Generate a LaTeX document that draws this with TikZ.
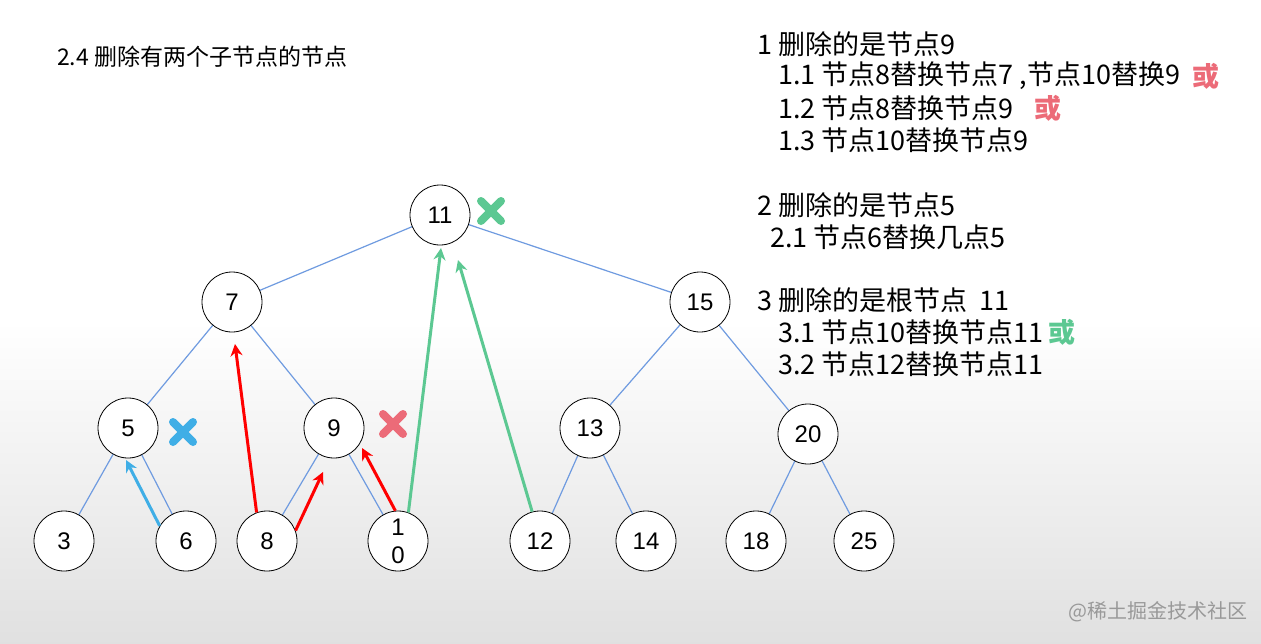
\documentclass[tikz,border=0pt]{standalone}
\usepackage{fontspec}
\setmainfont{Liberation Sans}
\newfontfamily\cjk{Noto Sans CJK SC}
\usetikzlibrary{positioning,arrows.meta}
\definecolor{edgeblue}{HTML}{6F9BE0}
\definecolor{crossgreen}{HTML}{5CC892}
\definecolor{crossred}{HTML}{EC6B78}
\definecolor{crossblue}{HTML}{3FAEE6}
\begin{document}
\begin{tikzpicture}[x=1pt,y=-1pt,
    treenode/.style={draw, thick, circle, fill=white, minimum size=60pt, inner sep=0pt, font=\fontsize{24}{24}\selectfont},
    link/.style={edgeblue, line width=1.2pt},
    move/.style={-{Stealth[length=12pt,width=12pt]}, line width=3pt},
    note/.style={anchor=west, inner sep=0pt, font=\cjk\fontsize{27}{28}\selectfont},
    orword/.style={anchor=west, inner sep=0pt, font=\cjk\bfseries\fontsize{27}{28}\selectfont}
]
    \fill[top color=white, bottom color=black!12, middle color=white] (0,0) rectangle (1261,643);
    \useasboundingbox (0,0) rectangle (1261,643);

    % Title and notes
    \node[note, font=\cjk\fontsize{23}{24}\selectfont] (title) at (57,57) {2.4 删除有两个子节点的节点};
    \node[note] (n1) at (757,44) {1 删除的是节点9};
    \node[note] (n11) at (778,76) {1.1 节点8替换节点7 ,节点10替换9};
    \node[orword, crossred] (or1) at (1192,76) {或};
    \node[note] (n12) at (778,108) {1.2 节点8替换节点9};
    \node[orword, crossred] (or2) at (1034,108) {或};
    \node[note] (n13) at (778,140) {1.3 节点10替换节点9};
    \node[note] (n2) at (757,205) {2 删除的是节点5};
    \node[note] (n21) at (770,237) {2.1 节点6替换几点5};
    \node[note] (n3) at (757,300) {3 删除的是根节点\ \ 11};
    \node[note] (n31) at (778,332) {3.1 节点10替换节点11};
    \node[orword, crossgreen] (or3) at (1048,332) {或};
    \node[note] (n32) at (778,364) {3.2 节点12替换节点11};
    \node[note, black!40, font=\cjk\fontsize{20}{20}\selectfont] (mark) at (1068,612) {@稀土掘金技术社区};

    % Edges first, nodes on top
    \foreach \a/\b/\c/\d in {440/215/232/302, 440/215/700/302, 232/302/128/428, 232/302/334/428,
        128/428/64/541, 128/428/186/541, 334/428/267/541, 334/428/398/541,
        700/302/590/428, 700/302/808/434, 590/428/540/541, 590/428/646/541,
        808/434/756/541, 808/434/864/541}
        \draw[link] (\a,\b) -- (\c,\d);

    % Nodes
    \node[treenode] (t11) at (440,215) {11};
    \node[treenode] (t7) at (232,302) {7};
    \node[treenode] (t15) at (700,302) {15};
    \node[treenode] (t5) at (128,428) {5};
    \node[treenode] (t9) at (334,428) {9};
    \node[treenode] (t13) at (590,428) {13};
    \node[treenode] (t20) at (808,434) {20};
    \node[treenode] (t3) at (64,541) {3};
    \node[treenode] (t6) at (186,541) {6};
    \node[treenode] (t8) at (267,541) {8};
    \node[treenode, align=center, font=\fontsize{24}{28}\selectfont] (t10) at (398,541) {1\\0};
    \node[treenode] (t12) at (540,541) {12};
    \node[treenode] (t14) at (646,541) {14};
    \node[treenode] (t18) at (756,541) {18};
    \node[treenode] (t25) at (864,541) {25};

    % Arrows
    \coordinate (a1) at (235,344);
    \coordinate (a2) at (323,472);
    \coordinate (a3) at (362,448);
    \coordinate (a4) at (126,460);
    \coordinate (a5) at (441,248);
    \coordinate (a6) at (458,260);
    \draw[move, red] (t8.110) -- (a1);
    \draw[move, red] (t8.20) -- (a2);
    \draw[move, red] (t10.95) -- (a3);
    \draw[move, crossblue] (t6.150) -- (a4);
    \draw[move, crossgreen] (t10.70) -- (a5);
    \draw[move, crossgreen] (t12.105) -- (a6);

    % Crosses
    \foreach \x/\y/\col in {491/211/crossgreen, 183/432/crossblue, 393/424/crossred}
        \draw[\col, line width=8pt, line cap=round] (\x-10,\y-10) -- (\x+10,\y+10) (\x-10,\y+10) -- (\x+10,\y-10);
\end{tikzpicture}
\end{document}
